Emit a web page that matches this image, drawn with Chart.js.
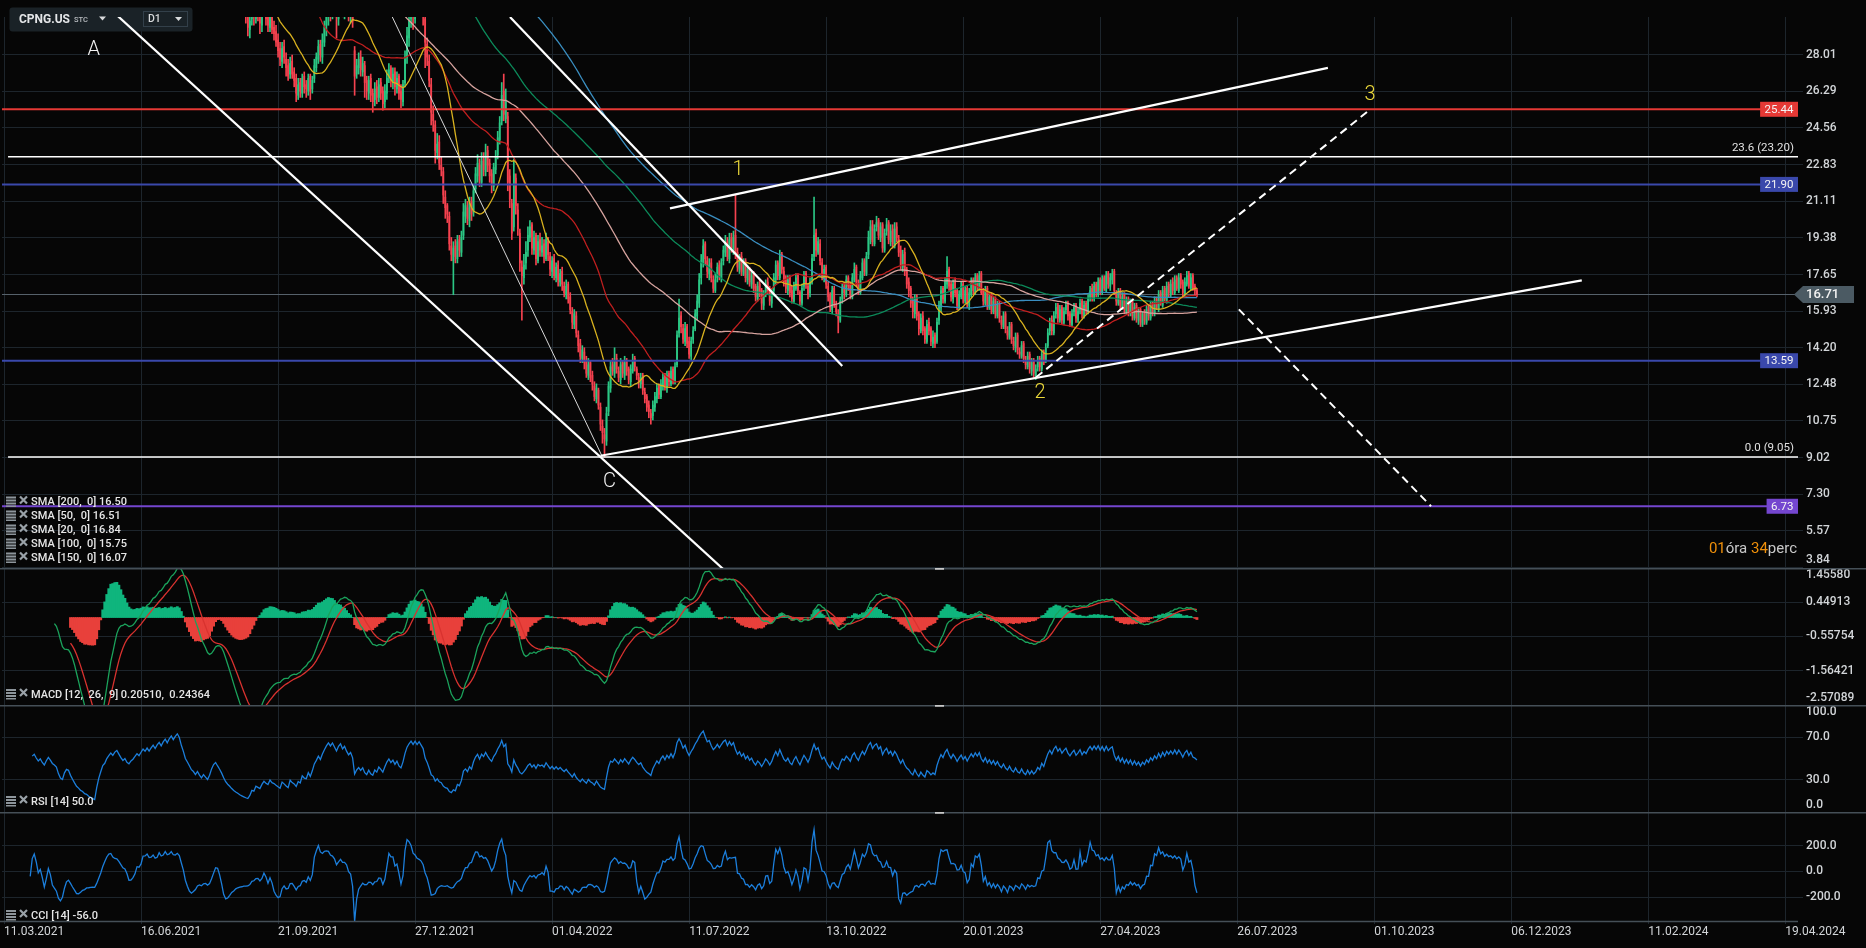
<!DOCTYPE html>
<html><head><meta charset="utf-8">
<script src="https://cdn.jsdelivr.net/npm/chart.js@4.4.1/dist/chart.umd.min.js"></script>
<style>
html,body{margin:0;padding:0;background:#060606;}
#wrap{position:relative;width:1866px;height:948px;background:#060606;overflow:hidden;}
canvas{position:absolute;left:0;}
</style></head><body>
<div id="wrap">
<canvas id="cMain" width="1866" height="568" style="top:0;width:1866px;height:568px"></canvas>
<canvas id="cMacd" width="1866" height="137" style="top:568px;width:1866px;height:137px"></canvas>
<canvas id="cRsi" width="1866" height="107" style="top:705px;width:1866px;height:107px"></canvas>
<canvas id="cCci" width="1866" height="136" style="top:812px;width:1866px;height:136px"></canvas>
</div>
<script>
// ---------------- DATA ----------------
const dateLabels = ['11.03.2021','16.06.2021','21.09.2021','27.12.2021','01.04.2022','11.07.2022','13.10.2022','20.01.2023','27.04.2023','26.07.2023','01.10.2023','06.12.2023','11.02.2024','19.04.2024'];
const labelStep = 68; // bars between date labels

const opens = [
63.5,49.8,48.7,50.3,49.2,48.3,48.9,49.6,48.5,48.1,
48.8,49.7,49.1,48.5,49.2,49.9,50.1,49.4,48.8,49.4,
48.5,48.2,48.9,49.3,48.8,48.4,48.1,47.5,46.3,45.1,
44.7,45.4,46.1,45.7,44.5,43.4,42.2,41.1,40.3,39.2,
38.4,37.4,36.8,35.7,34.9,33.8,33.2,34.6,36.1,37.3,
38.6,39.1,40.2,40.9,41.6,41.1,41.9,42.3,41.4,40.9,
40.1,40.5,39.9,39.6,40.1,40.2,40.9,41.4,40.9,41.7,
42.3,41.8,42.6,42.0,42.8,43.3,42.7,43.6,44.1,43.5,
44.5,45.1,44.7,45.4,46.3,45.9,46.5,47.4,46.8,45.9,
45.1,44.2,43.4,42.9,41.9,41.5,40.8,41.4,40.4,39.7,
40.3,39.7,38.9,39.6,40.2,40.8,41.3,40.5,39.9,39.1,
38.2,37.1,36.1,35.6,34.5,33.9,33.0,32.5,31.5,31.1,
30.3,29.9,29.2,29.7,30.2,29.7,30.4,29.8,29.4,30.0,
30.1,29.8,29.3,29.9,29.3,29.1,28.7,28.3,27.7,28.4,
27.8,27.5,27.1,27.7,27.2,26.9,26.1,26.7,26.2,27.0,
26.6,26.3,27.0,26.4,26.9,27.4,27.8,28.5,27.9,28.6,
29.4,29.8,30.5,30.0,30.7,30.3,29.7,30.4,31.0,30.3,
30.7,30.2,29.8,30.1,28.2,27.1,27.4,27.9,27.2,27.5,
26.8,26.2,26.9,26.2,25.9,26.5,26.0,26.7,26.3,25.8,
26.2,27.0,27.4,26.7,27.2,26.4,27.0,26.3,25.8,26.7,
27.9,28.8,29.7,30.3,29.7,30.6,30.0,30.8,30.2,29.7,
28.5,27.7,26.6,25.2,24.7,23.4,23.9,22.8,22.5,21.3,
20.9,20.4,19.0,18.3,19.0,18.4,19.3,18.7,19.5,20.4,
20.8,20.2,21.1,20.6,21.7,22.3,22.8,22.0,23.1,22.5,
23.5,22.9,22.4,21.8,22.6,23.3,24.0,24.9,26.3,25.0,
25.1,22.3,21.0,19.9,22.2,20.7,19.6,18.0,17.5,18.2,
18.8,19.4,20.0,18.8,19.5,18.3,19.3,18.7,19.1,18.4,
19.2,18.5,17.8,18.4,17.5,18.1,17.3,17.8,17.1,16.7,
17.2,16.6,15.9,15.3,15.7,14.8,14.4,13.7,14.0,13.6,
12.9,13.5,12.9,12.4,11.8,12.2,11.4,10.5,10.1,9.8,
11.2,12.3,13.4,13.0,13.7,13.1,12.7,13.5,12.9,13.6,
13.2,12.6,13.1,13.7,13.2,12.8,12.5,12.9,12.1,11.9,
11.5,11.1,11.0,11.4,11.8,12.4,11.9,12.4,12.9,12.3,
13.0,12.5,13.2,12.6,13.4,14.9,15.7,15.1,14.5,15.2,
14.5,13.8,14.6,15.1,15.7,16.3,17.5,18.2,19.1,18.3,
17.7,18.2,17.4,16.9,17.5,18.1,17.5,18.3,18.7,19.2,
18.4,19.4,18.8,19.5,18.7,17.9,18.5,17.7,18.3,17.4,
17.9,17.2,17.7,17.1,16.5,17.2,16.9,16.2,16.8,17.3,
17.0,16.3,16.9,17.4,18.2,17.5,18.6,17.8,17.4,16.9,
17.5,16.9,16.4,17.0,17.6,16.8,16.3,17.1,17.7,17.1,
16.8,17.4,18.5,19.6,18.7,19.1,18.2,17.5,18.0,17.1,
16.7,16.0,17.0,16.2,15.8,15.5,16.5,17.1,16.7,17.5,
17.2,16.6,17.4,18.0,17.2,16.8,17.5,18.3,17.7,18.6,
19.3,20.0,19.1,19.9,20.2,19.4,20.0,18.8,19.7,20.1,
19.2,19.8,19.0,19.9,19.3,18.8,18.0,18.7,17.9,17.3,
17.0,16.4,15.8,16.6,15.8,15.0,15.7,15.1,14.5,15.4,
15.1,14.4,14.8,14.5,15.5,16.1,17.0,16.4,17.2,17.9,
17.2,16.5,17.3,16.9,16.1,16.6,17.2,16.4,17.0,16.2,
16.7,17.4,16.8,17.6,17.0,17.7,16.9,16.3,17.0,16.1,
16.7,15.9,16.5,15.7,16.3,15.5,15.2,15.8,15.0,14.7,
15.3,14.5,14.2,14.8,14.0,13.8,14.4,13.6,13.3,13.9,
13.1,13.6,12.9,13.3,13.7,13.2,14.0,13.6,14.3,15.0,
15.5,14.9,15.8,16.2,15.5,16.1,15.4,16.0,16.3,15.8,
15.3,15.9,16.2,15.5,16.0,16.4,15.7,16.3,15.9,16.6,
17.0,16.5,17.2,16.7,17.4,16.8,17.5,16.9,17.7,17.1,
17.4,17.8,16.8,16.3,16.9,16.1,16.7,15.9,16.5,15.8,
16.4,15.6,16.2,15.5,16.0,15.3,15.9,15.4,16.1,15.6,
16.3,15.8,16.5,16.0,16.8,16.2,17.0,16.4,17.2,16.7,
17.3,16.8,17.5,16.9,17.6,17.3,16.7,17.2,17.7,17.0,17.6,17.1,16.9
];
const highs = [
69.0,50.9,50.8,51.2,49.9,49.4,50.2,50.0,49.1,49.3,
50.3,50.2,49.5,49.6,50.4,50.9,50.6,49.8,49.9,49.7,
48.9,49.2,49.8,49.6,49.0,48.7,48.4,47.7,46.6,45.6,
45.9,46.5,46.4,45.9,44.8,43.7,42.5,41.4,40.6,39.6,
38.7,37.9,37.1,36.0,35.2,34.1,34.9,36.4,37.6,38.9,
39.5,40.5,41.2,41.9,41.9,42.1,42.6,42.6,41.7,41.1,
40.9,40.8,40.2,40.3,40.6,41.1,41.6,41.6,41.9,42.5,
42.6,42.8,42.8,43.0,43.5,43.6,43.8,44.3,44.4,44.7,
45.3,45.4,45.8,46.6,46.6,46.9,47.7,47.8,47.1,46.2,
45.3,44.5,43.7,43.1,42.2,41.8,41.6,41.7,40.7,40.5,
40.5,39.9,39.8,40.6,41.2,41.6,41.5,40.7,40.1,39.3,
38.4,37.4,36.5,35.8,34.8,34.2,33.3,32.7,31.8,31.4,
30.6,30.2,29.9,30.5,30.4,30.7,30.6,30.0,30.3,30.6,
30.4,30.0,30.1,30.2,29.6,29.4,29.0,28.6,28.6,28.7,
28.1,27.8,27.9,28.0,27.4,27.1,26.9,26.9,27.1,27.2,
26.8,27.1,27.1,27.0,27.8,28.1,28.7,28.7,29.0,29.6,
30.3,30.8,30.9,31.0,31.1,30.5,30.9,31.3,31.2,31.1,
31.0,30.6,30.5,30.4,28.4,27.8,28.1,28.2,27.9,27.7,
27.0,27.0,27.1,26.4,26.7,26.8,26.9,26.9,26.5,26.6,
27.3,27.6,27.5,27.4,27.4,27.2,27.1,26.6,26.8,28.2,
29.3,30.0,30.6,30.6,30.9,30.9,31.0,31.1,30.5,29.9,
28.8,28.0,26.9,25.6,24.9,24.3,24.2,23.2,22.7,21.6,
21.0,20.6,19.4,19.2,19.3,19.5,19.5,19.7,21.0,21.2,
21.1,21.3,21.3,21.9,22.7,23.3,23.1,23.4,23.4,23.8,
23.7,23.1,22.6,22.9,23.5,24.4,25.1,26.7,27.1,26.4,
25.3,22.6,21.2,23.1,22.4,21.0,19.8,18.3,18.6,19.2,
19.9,20.2,20.1,19.7,19.6,19.5,19.6,19.4,19.3,19.6,
19.4,18.7,18.5,18.6,18.2,18.3,17.9,18.0,17.3,17.4,
17.3,16.8,16.1,16.0,15.9,15.0,14.6,14.3,14.2,13.8,
13.7,13.6,13.1,12.6,12.5,12.3,11.6,10.8,10.4,11.4,
12.6,13.6,13.7,14.2,13.9,13.3,13.7,13.6,13.8,13.7,
13.3,13.4,13.9,13.8,13.3,13.0,13.0,13.0,12.3,12.0,
11.7,11.3,11.7,12.1,12.5,12.5,12.7,13.0,13.0,13.1,
13.1,13.3,13.3,13.5,15.0,16.5,15.9,15.3,15.4,15.3,
14.7,14.7,15.2,16.0,16.7,17.7,18.6,19.3,19.2,18.5,
18.4,18.4,17.6,17.7,18.2,18.3,18.4,19.0,19.5,19.4,
19.6,19.6,19.7,21.4,18.9,18.6,18.7,18.4,18.4,18.1,
18.0,17.8,17.8,17.2,17.3,17.4,17.0,16.9,17.4,17.5,
17.1,17.0,17.7,18.3,18.3,18.8,18.7,18.0,17.6,17.6,
17.6,17.1,17.3,17.7,17.7,16.9,17.2,17.8,17.8,17.2,
17.5,18.6,21.3,19.8,19.4,19.3,18.4,18.1,18.1,17.3,
16.8,17.1,17.1,16.4,16.0,16.6,17.2,17.3,17.6,17.6,
17.3,17.7,18.2,18.1,17.4,17.8,18.4,18.4,18.7,19.7,
20.2,20.2,20.0,20.4,20.3,20.1,20.1,19.8,20.3,20.2,
20.0,20.0,20.1,20.1,19.5,19.0,18.8,18.9,18.0,17.5,
17.1,16.6,16.7,16.7,15.9,15.8,15.9,15.2,15.5,15.6,
15.2,15.0,14.9,15.6,16.4,17.1,17.1,17.5,18.5,18.0,
17.3,17.4,17.5,17.0,16.9,17.3,17.3,17.1,17.1,17.0,
17.5,17.5,17.7,17.7,17.8,17.8,17.0,17.1,17.1,16.8,
16.8,16.6,16.6,16.4,16.4,15.7,15.9,15.9,15.2,15.4,
15.4,14.7,14.9,14.9,14.2,14.5,14.5,13.8,14.0,14.0,
13.7,13.7,13.4,13.8,13.8,14.1,14.1,14.4,15.1,15.6,
15.7,15.9,16.3,16.3,16.2,16.2,16.1,16.4,16.4,15.9,
16.0,16.3,16.3,16.1,16.5,16.5,16.4,16.4,16.7,17.1,
17.2,17.3,17.3,17.5,17.5,17.6,17.6,17.8,17.8,17.7,
17.9,17.9,16.9,17.0,17.0,16.8,16.8,16.6,16.6,16.5,
16.5,16.3,16.3,16.1,16.1,15.9,16.0,16.2,16.2,16.4,
16.4,16.6,16.6,16.9,16.9,17.1,17.1,17.3,17.3,17.4,
17.5,17.6,17.6,17.7,17.7,17.4,17.5,17.8,17.8,17.7,17.7,17.2,17.0
];
const lows = [
48.9,47.7,48.1,48.7,47.6,47.8,48.4,48.1,47.3,47.6,
48.4,48.8,47.9,48.1,48.9,49.4,49.0,48.3,48.5,48.2,
47.6,47.9,48.6,48.5,47.9,47.6,47.2,45.9,44.6,44.0,
44.3,45.0,45.3,44.3,43.2,42.0,40.7,39.8,38.8,38.1,
37.0,36.4,35.3,34.4,33.3,32.4,32.8,34.2,35.8,37.0,
38.3,38.8,39.9,40.6,40.7,40.8,41.6,41.2,40.5,39.9,
39.8,39.5,39.1,39.3,39.8,39.9,40.6,40.7,40.6,41.4,
41.6,41.6,41.8,41.8,42.5,42.5,42.4,43.3,43.2,43.2,
44.2,44.3,44.4,45.1,45.5,45.6,46.2,46.6,45.7,44.9,
43.8,43.1,42.5,41.7,41.2,40.6,40.5,40.2,39.4,39.4,
39.3,38.6,38.6,39.3,40.0,40.5,40.4,39.8,38.9,37.8,
36.7,35.9,35.1,34.3,33.5,32.7,32.1,31.3,30.6,30.1,
29.5,28.9,28.8,29.4,29.4,29.5,29.6,29.0,29.1,29.8,
29.4,29.1,29.1,29.0,28.7,28.4,27.9,27.5,27.4,27.6,
27.0,26.8,26.9,26.9,26.5,25.8,25.9,26.0,26.0,26.2,
26.0,26.1,25.9,26.2,26.7,27.2,27.6,27.7,27.6,28.4,
28.9,29.4,29.6,29.7,29.8,28.8,29.4,30.0,29.8,29.7,
29.9,29.6,29.5,29.3,26.1,26.9,27.1,27.0,27.0,26.0,
25.9,25.9,25.8,25.3,25.6,25.7,25.8,25.9,25.4,25.5,
25.9,26.7,26.5,26.4,26.1,26.2,25.9,25.5,25.6,26.5,
27.6,28.4,29.3,29.2,29.5,29.8,29.8,30.0,29.4,27.4,
27.5,26.5,24.7,24.4,22.9,23.1,22.6,22.3,21.0,20.3,
20.1,18.8,18.3,16.7,18.2,18.2,18.5,18.5,19.3,20.1,
20.0,19.9,20.2,20.4,21.5,22.0,21.8,21.8,22.3,22.3,
22.5,22.0,21.5,21.6,22.4,23.1,23.8,24.7,24.9,24.8,
21.6,20.8,19.3,19.7,20.5,19.5,17.8,15.5,17.2,17.9,
18.5,19.2,18.6,18.6,18.1,18.2,18.5,18.5,18.2,18.3,
18.3,17.6,17.5,17.4,17.3,17.1,17.1,16.9,16.6,16.5,
16.3,15.8,15.1,15.1,14.7,14.0,13.5,13.5,13.2,12.8,
12.7,12.6,12.2,11.7,11.6,11.3,10.3,9.7,9.05,9.6,
11.0,12.1,12.9,12.8,13.0,12.6,12.5,12.8,12.7,12.9,
12.5,12.4,13.0,13.1,12.7,12.3,12.3,12.0,11.6,11.2,
10.9,10.6,10.8,11.2,11.6,11.8,11.8,12.2,12.2,12.1,
12.4,12.4,12.5,12.5,13.3,14.7,14.9,14.4,14.3,14.2,
13.7,13.6,14.4,15.0,15.5,16.1,17.2,18.0,18.1,17.5,
17.4,17.3,16.8,16.8,17.3,17.4,17.3,18.1,18.5,18.3,
18.2,18.7,18.6,18.4,17.8,17.7,17.6,17.6,17.3,17.2,
17.1,17.0,16.8,16.4,16.4,16.6,16.0,16.0,16.6,16.7,
16.2,16.1,16.7,17.2,17.4,17.4,17.7,17.1,16.8,16.7,
16.6,16.3,16.3,16.9,16.7,16.2,16.2,16.9,17.0,16.5,
16.6,17.2,18.3,18.5,18.6,18.1,17.4,17.3,17.0,16.4,
15.9,15.8,16.1,15.7,14.9,15.4,16.3,16.5,16.6,16.9,
16.5,16.5,17.3,17.1,16.7,16.7,17.4,17.6,17.6,18.4,
19.1,19.0,19.0,19.7,19.3,19.2,18.7,18.7,19.5,19.1,
19.0,18.9,18.9,19.2,18.5,17.9,17.8,17.6,17.0,16.6,
16.1,15.6,15.6,15.5,14.8,14.9,14.8,14.4,14.4,14.8,
14.3,14.2,14.2,14.4,15.3,15.9,16.3,16.3,17.0,16.9,
16.4,16.3,16.6,16.0,16.0,16.5,16.3,16.3,16.1,16.0,
16.6,16.7,16.7,16.9,16.9,16.7,16.2,16.2,16.0,16.0,
15.8,15.8,15.6,15.6,15.4,15.1,15.1,14.9,14.6,14.6,
14.4,14.1,14.0,13.9,13.7,13.7,13.5,13.2,13.2,13.0,
12.9,12.8,12.7,13.1,13.1,13.1,13.4,13.5,14.2,14.8,
14.8,14.8,15.6,15.4,15.4,15.3,15.3,15.8,15.5,15.2,
15.2,15.7,15.4,15.4,15.8,15.6,15.6,15.8,15.8,16.4,
16.4,16.4,16.6,16.6,16.7,16.7,16.9,16.8,17.0,16.9,
17.2,16.7,16.2,16.2,16.0,16.0,15.8,15.8,15.7,15.7,
15.5,15.5,15.4,15.3,15.2,15.2,15.3,15.3,15.5,15.5,
15.7,15.7,16.0,15.9,16.2,16.1,16.4,16.3,16.6,16.6,
16.7,16.7,16.9,16.8,17.0,16.6,16.6,17.1,17.0,16.9,16.9,16.7,16.6
];
const closes = [
49.3,48.5,50.1,49.4,48.2,48.8,49.5,48.6,48.0,48.7,
49.6,49.2,48.4,49.1,49.8,50.2,49.5,48.9,49.3,48.6,
48.1,48.8,49.4,48.9,48.3,48.0,47.6,46.2,45.0,44.6,
45.5,46.0,45.8,44.6,43.5,42.3,41.0,40.2,39.1,38.5,
37.3,36.9,35.6,34.8,33.7,32.9,34.5,36.0,37.2,38.5,
39.0,40.1,40.8,41.5,41.0,41.8,42.2,41.5,40.8,40.2,
40.6,39.8,39.5,40.0,40.3,40.8,41.3,41.0,41.6,42.2,
41.9,42.5,42.1,42.7,43.2,42.8,43.5,44.0,43.6,44.4,
45.0,44.6,45.5,46.2,45.8,46.6,47.3,46.9,46.0,45.2,
44.1,43.5,42.8,42.0,41.6,40.9,41.3,40.5,39.8,40.2,
39.6,39.0,39.5,40.3,40.9,41.2,40.6,40.0,39.2,38.1,
37.0,36.2,35.5,34.6,33.8,33.1,32.4,31.6,31.0,30.4,
29.8,29.3,29.6,30.1,29.8,30.3,29.9,29.5,29.9,30.2,
29.7,29.4,29.8,29.2,29.0,28.6,28.2,27.8,28.3,27.9,
27.4,27.0,27.6,27.1,26.8,26.2,26.6,26.3,26.9,26.5,
26.4,26.9,26.3,26.8,27.5,27.9,28.4,28.0,28.7,29.3,
29.9,30.4,30.1,30.6,30.2,29.8,30.5,30.9,30.4,30.8,
30.3,29.9,30.2,29.6,27.0,27.5,27.8,27.3,27.6,26.7,
26.3,26.8,26.1,25.8,26.4,26.0,26.6,26.2,25.7,26.3,
26.9,27.3,26.8,27.1,26.5,26.9,26.2,25.9,26.6,27.8,
28.9,29.6,30.2,29.8,30.5,30.1,30.7,30.3,29.9,28.6,
27.9,26.8,25.3,24.9,23.5,23.8,22.9,22.6,21.4,20.8,
20.5,19.1,18.6,18.9,18.5,19.2,18.8,19.4,20.6,20.9,
20.3,21.0,20.5,21.6,22.4,22.9,22.1,23.0,22.6,23.4,
22.8,22.3,21.9,22.7,23.2,24.1,24.8,26.1,25.2,25.8,
22.0,21.2,19.6,22.4,20.9,19.8,18.2,17.6,18.1,18.7,
19.5,19.9,18.9,19.4,18.4,19.2,18.8,19.0,18.5,19.3,
18.6,17.9,18.3,17.6,18.0,17.4,17.7,17.2,16.8,17.1,
16.5,16.0,15.4,15.8,14.9,14.3,13.8,14.1,13.5,13.0,
13.4,12.8,12.5,11.9,12.3,11.5,10.6,10.2,9.9,11.1,
12.4,13.3,13.1,13.6,13.2,12.8,13.4,13.0,13.5,13.1,
12.7,13.2,13.6,13.3,12.9,12.6,12.8,12.2,11.8,11.4,
11.2,10.9,11.5,11.9,12.3,12.0,12.5,12.8,12.4,12.9,
12.6,13.1,12.7,13.3,14.8,15.6,15.2,14.6,15.1,14.4,
13.9,14.5,15.0,15.8,16.4,17.4,18.3,19.0,18.4,17.8,
18.1,17.5,17.0,17.4,18.0,17.6,18.2,18.8,19.1,18.5,
19.3,18.9,19.4,18.6,18.0,18.4,17.8,18.2,17.5,17.9,
17.3,17.6,17.0,16.6,17.1,16.8,16.3,16.7,17.2,16.9,
16.4,16.8,17.5,18.1,17.6,18.5,17.9,17.3,17.0,17.4,
16.8,16.5,17.1,17.5,16.9,16.4,17.0,17.6,17.2,16.7,
17.3,18.4,19.5,18.8,19.2,18.3,17.6,17.9,17.2,16.6,
16.1,16.9,16.3,15.9,15.6,16.4,17.0,16.8,17.4,17.1,
16.7,17.5,17.9,17.3,16.9,17.6,18.2,17.8,18.5,19.4,
19.9,19.2,19.8,20.1,19.5,19.9,18.9,19.6,20.0,19.3,
19.7,19.1,19.8,19.4,18.7,18.1,18.6,17.8,17.2,16.9,
16.3,15.9,16.5,15.7,15.1,15.6,15.0,14.6,15.3,15.0,
14.5,14.7,14.4,15.4,16.2,16.9,16.5,17.3,17.8,17.1,
16.6,17.2,16.8,16.2,16.7,17.1,16.5,16.9,16.3,16.8,
17.3,16.9,17.5,17.1,17.6,16.8,16.4,16.9,16.2,16.6,
16.0,16.4,15.8,16.2,15.6,15.3,15.7,15.1,14.8,15.2,
14.6,14.3,14.7,14.1,13.9,14.3,13.7,13.4,13.8,13.2,
13.5,13.0,13.2,13.6,13.3,13.9,13.5,14.2,14.9,15.4,
15.0,15.7,16.1,15.6,16.0,15.5,15.9,16.2,15.7,15.4,
15.8,16.1,15.6,15.9,16.3,15.8,16.2,16.0,16.5,16.9,
16.6,17.1,16.8,17.3,16.9,17.4,17.0,17.6,17.2,17.5,
17.7,16.9,16.4,16.8,16.2,16.6,16.0,16.4,15.9,16.3,
15.7,16.1,15.6,15.9,15.4,15.8,15.5,16.0,15.7,16.2,
15.9,16.4,16.1,16.7,16.3,16.9,16.5,17.1,16.8,17.2,
16.9,17.4,17.0,17.5,17.2,16.8,17.3,17.6,17.1,17.5,17.0,16.9,16.71
];

// price axis ticks (right side)
const priceTicks = [3.84,5.57,7.30,9.02,10.75,12.48,14.20,15.93,17.65,19.38,21.11,22.83,24.56,26.29,28.01];
const macdTicks = [-2.57089,-1.56421,-0.55754,0.44913,1.45580];
const rsiTicks = [0,30,70,100];
const cciTicks = [-200,0,200];

// horizontal levels
const levelValues = [25.44, 23.20, 21.90, 13.59, 9.05, 6.73];
const levelBoxed  = [true, false, true, true, false, true];
const fibTexts = [['23.6 (23.20)', 23.20], ['0.0 (9.05)', 9.05]];
const lastPrice = 16.71;

// drawn trend lines [bar, price]
const trendLines = [
  [[56.3, 29.85], [360, 3.5]],
  [[251.1, 29.79], [416.0, 13.34]],
  [[330.5, 20.77], [657, 27.39]],
  [[296, 9.11], [783, 17.38]]
];
const thinLines = [ [[192.7, 29.79], [297, 9.05]] ];
const dashedLines = [
  [[512.2, 12.81], [677.2, 25.37]],
  [[612.8, 16.01], [708.2, 6.73]]
];
const waveMarks = [['A', 44.5, 28.25, 'w'], ['C', 300.5, 7.87, 'w'], ['1', 364.3, 22.58, 'y'], ['2', 514.1, 12.07, 'y'], ['3', 677.9, 26.11, 'y']];

const smaPeriods = [20, 50, 100, 150, 200];
const smaLegend = ['SMA [200,  0] 16.50','SMA [50,  0] 16.51','SMA [20,  0] 16.84','SMA [100,  0] 15.75','SMA [150,  0] 16.07'];

// ---------------- STYLE ----------------
const BG = '#060606';
const GRID = '#1d252c';
const SEP = '#454f57';
const TXT = '#d2d5d8';
const UP = '#2bc784', DN = '#f5424f';
const smaColors = {20:'#d9b21f', 50:'#c01f1f', 100:'#d6a39e', 150:'#0c8a5a', 200:'#3a8ec0'};
const levelColors = ['#e53935','#ffffff','#3a48ab','#3a48ab','#ffffff','#7446cf'];
const levelWidths = [2,1.5,2,2,1.5,2];
const X_MIN = -1, X_MAX = 890.3, AXIS_W = 68;
Chart.defaults.font.family = 'Roboto';

const N = closes.length;

// ---------------- INDICATORS ----------------
function sma(arr, n){ const out=[]; let s=0; for(let i=0;i<arr.length;i++){ s+=arr[i]; if(i>=n) s-=arr[i-n]; if(i>=n-1) out.push({x:i,y:s/n}); } return out; }
function ema(arr, n, start){ const k=2/(n+1); const out=new Array(arr.length).fill(null); let e=arr[start]; out[start]=e; for(let i=start+1;i<arr.length;i++){ e=arr[i]*k+e*(1-k); out[i]=e; } return out; }
const e12 = ema(closes,12,0), e26 = ema(closes,26,0);
const macdRaw = closes.map((_,i)=>e12[i]-e26[i]);
const sig = ema(macdRaw, 9, 25);
const macdLine=[], sigLine=[], hist=[], histColors=[];
for(let i=25;i<N;i++) macdLine.push({x:i,y:macdRaw[i]});
for(let i=33;i<N;i++){ const h=macdRaw[i]-sig[i]; sigLine.push({x:i,y:sig[i]}); hist.push({x:i,y:h}); histColors.push(h>=0?'#0fb57d':'#e8403b'); }
function rsi(c,n){ const out=[]; let g=0,l=0; for(let i=1;i<=n;i++){ const d=c[i]-c[i-1]; if(d>0) g+=d; else l-=d; } g/=n; l/=n; out.push({x:n,y:l===0?100:100-100/(1+g/l)}); for(let i=n+1;i<c.length;i++){ const d=c[i]-c[i-1]; g=(g*(n-1)+(d>0?d:0))/n; l=(l*(n-1)+(d<0?-d:0))/n; out.push({x:i,y:l===0?100:100-100/(1+g/l)}); } return out; }
function cci(h,lo,c,n){ const tp=c.map((v,i)=>(h[i]+lo[i]+v)/3); const out=[]; for(let i=n-1;i<c.length;i++){ let s=0; for(let j=i-n+1;j<=i;j++) s+=tp[j]; const m=s/n; let md=0; for(let j=i-n+1;j<=i;j++) md+=Math.abs(tp[j]-m); md/=n; out.push({x:i,y:md===0?0:(tp[i]-m)/(0.015*md)}); } return out; }

// ---------------- HELPERS ----------------
function noPad(s){ s.paddingTop=0; s.paddingBottom=0; s.paddingLeft=0; s.paddingRight=0; }
function xScale(showLabels){
  return {
    type:'linear', min:X_MIN, max:X_MAX, offset:false,
    afterBuildTicks: s => { s.ticks = dateLabels.map((d,k)=>({value:k*labelStep})); },
    afterFit: s => { s.height = showLabels ? 27 : 0; noPad(s); },
    ticks:{ display:showLabels, autoSkip:false, maxRotation:0, minRotation:0, align:'start', color:TXT, font:{size:12}, padding:1, callback:(v,i)=>dateLabels[i] },
    grid:{ color:GRID, drawTicks:showLabels, tickLength:3, offset:false },
    border:{ display:false }
  };
}
function yScale(min,max,vals,labels){
  return {
    type:'linear', position:'right', min, max,
    afterBuildTicks: s => { s.ticks = vals.map(v=>({value:v})); },
    afterFit: s => { s.width = AXIS_W; noPad(s); },
    ticks:{ autoSkip:false, color:TXT, font:{size:12, weight:'500'}, padding:3, callback:(v,i)=>labels[i] },
    grid:{ color:GRID, tickLength:5, drawTicks:true },
    border:{ display:false }
  };
}
function seg(pts){ return pts.map(p=>({x:p[0],y:p[1]})); }
function txt(ctx,s,x,y,o){ o=o||{}; ctx.save(); ctx.font=(o.weight||'400')+' '+(o.size||12)+'px '+(o.family||'Roboto'); ctx.fillStyle=o.color||TXT; ctx.textAlign=o.align||'left'; ctx.textBaseline=o.baseline||'middle'; ctx.fillText(s,x,y); const w=ctx.measureText(s).width; ctx.restore(); return w; }
function legendIcons(ctx,y){
  ctx.save();
  ctx.fillStyle='#8d959b';
  ctx.fillRect(6,y-5,10,2); ctx.fillRect(6,y-2,10,2); ctx.fillRect(6,y+1,10,2); ctx.fillRect(6,y+4,10,1.5);
  ctx.strokeStyle='#9aa2a8'; ctx.lineWidth=2.2;
  ctx.beginPath(); ctx.moveTo(20,y-5); ctx.lineTo(27,y+2); ctx.moveTo(27,y-5); ctx.lineTo(20,y+2); ctx.stroke();
  ctx.restore();
}
function legendLine(ctx,s,y){ legendIcons(ctx,y); txt(ctx,s,31,y+1,{size:11,color:'#e6e6e6',weight:'500'}); }
function separator(ctx,y,right){ ctx.save(); ctx.strokeStyle=SEP; ctx.lineWidth=1.5; ctx.beginPath(); ctx.moveTo(0,y); ctx.lineTo(right,y); ctx.stroke(); ctx.fillStyle='#c8c8c8'; ctx.fillRect(935,y-1,9,2); ctx.restore(); }
const baseOpts = { responsive:false, animation:false, devicePixelRatio:1, plugins:{legend:{display:false},tooltip:{enabled:false}} };

// ---------------- MAIN CHART ----------------
const wicks=[], bodies=[], cColors=[];
for(let i=0;i<N;i++){
  wicks.push({x:i,y:[lows[i],highs[i]]});
  const lo=Math.min(opens[i],closes[i]), hi=Math.max(opens[i],closes[i]);
  bodies.push({x:i,y:[lo, hi-lo<0.05?lo+0.05:hi]});
  cColors.push(closes[i]>=opens[i]?UP:DN);
}
const mainDatasets = [];
trendLines.forEach(t=>mainDatasets.push({type:'line',data:seg(t),borderColor:'#ffffff',borderWidth:2.2,pointRadius:0,order:0}));
thinLines.forEach(t=>mainDatasets.push({type:'line',data:seg(t),borderColor:'#d9d9d9',borderWidth:1,pointRadius:0,order:0}));
dashedLines.forEach(t=>mainDatasets.push({type:'line',data:seg(t),borderColor:'#ffffff',borderWidth:2,borderDash:[8,5],pointRadius:0,order:0}));
levelValues.forEach((v,k)=>mainDatasets.push({type:'line',data:[{x:(levelColors[k]==='#ffffff'?2:X_MIN),y:v},{x:X_MAX,y:v}],borderColor:levelColors[k],borderWidth:levelWidths[k],pointRadius:0,order:1}));
smaPeriods.forEach(p=>mainDatasets.push({type:'line',data:sma(closes,p),borderColor:smaColors[p],borderWidth:1.3,pointRadius:0,order:2}));
mainDatasets.push({type:'bar',data:bodies,backgroundColor:cColors,barThickness:1.1,grouped:false,order:3});
mainDatasets.push({type:'bar',data:wicks,backgroundColor:cColors,barThickness:1,grouped:false,order:3});
mainDatasets.push({type:'line',data:[{x:X_MIN,y:lastPrice},{x:X_MAX,y:lastPrice}],borderColor:'#56616a',borderWidth:1,pointRadius:0,order:4});

const mainOverlay = {
  id:'mainOverlay',
  beforeDraw(chart){ const c=chart.ctx; c.save(); c.fillStyle=BG; c.fillRect(0,0,chart.width,chart.height); c.restore(); },
  beforeDatasetsDraw(chart){
    const c=chart.ctx; c.save();
    c.fillStyle='#1a2227'; c.beginPath(); c.roundRect(9.5,7.5,183,24,3); c.fill();
    c.restore();
    txt(c,'CPNG.US',19,19.5,{size:12,weight:'700',color:'#e4e6e8'});
    txt(c,'STC',74,20.5,{size:7.5,color:'#b8bcc0',weight:'500'});
    c.save(); c.fillStyle='#d8dadc';
    c.beginPath(); c.moveTo(99,16.5); c.lineTo(106,16.5); c.lineTo(102.5,20.5); c.closePath(); c.fill();
    c.strokeStyle='#33404a'; c.lineWidth=1; c.strokeRect(143.5,11.5,44,15);
    c.beginPath(); c.moveTo(175,17); c.lineTo(182,17); c.lineTo(178.5,21); c.closePath(); c.fill();
    c.restore();
    txt(c,'D1',148,19.5,{size:10.5,color:'#d8dadc',weight:'500'});
  },
  afterDraw(chart){
    const c=chart.ctx, xs=chart.scales.x, ys=chart.scales.y, R=chart.chartArea.right;
    waveMarks.forEach(m=>txt(c,m[0],xs.getPixelForValue(m[1]),ys.getPixelForValue(m[2]),{size:20,align:'center',color:m[3]==='y'?'#ecd93a':'#f2f2f2',weight:'300'}));
    fibTexts.forEach(f=>txt(c,f[0],R-4,ys.getPixelForValue(f[1])-9,{size:11.5,align:'right',color:'#e0e0e0'}));
    levelValues.forEach((v,k)=>{
      if(!levelBoxed[k]) return;
      const y=ys.getPixelForValue(v); c.save(); c.font='400 11.5px Roboto'; const w=c.measureText(v.toFixed(2)).width+9;
      c.fillStyle=levelColors[k]; c.fillRect(R-w,y-7.5,w,15); c.restore();
      txt(c,v.toFixed(2),R-w/2,y+0.5,{size:11.5,align:'center',color:'#f4f4f4'});
    });
    const py=ys.getPixelForValue(lastPrice);
    c.save(); c.fillStyle='#4b5a63'; c.beginPath(); c.moveTo(R-4,py); c.lineTo(R+5,py-8.5); c.lineTo(R+56,py-8.5); c.lineTo(R+56,py+8.5); c.lineTo(R+5,py+8.5); c.closePath(); c.fill(); c.restore();
    txt(c,lastPrice.toFixed(2),R+8,py+0.5,{size:13,weight:'500',color:'#f2f2f2'});
    smaLegend.forEach((s,k)=>legendLine(c,s,501.5+k*14));
    let x=R-1; const parts=[['perc','#c8c8c8'],['34','#f0900a'],['óra ','#c8c8c8'],['01','#f0900a']];
    parts.forEach(p=>{ const w=txt(c,p[0],x,549,{size:15,align:'right',color:p[1]}); x-=w; });
  }
};
new Chart(document.getElementById('cMain'),{
  type:'bar',
  data:{datasets:mainDatasets},
  options:Object.assign({}, baseOpts, {
    layout:{autoPadding:false, padding:{top:17,left:2,right:0,bottom:0}},
    scales:{ x:xScale(false), y:yScale(3.82,29.79,priceTicks,priceTicks.map((v,i)=>i===0?[v.toFixed(2),'']:v.toFixed(2))) }
  }),
  plugins:[mainOverlay]
});

// ---------------- MACD ----------------
const bgPlugin = {id:'bg',beforeDraw(chart){ const c=chart.ctx; c.save(); c.fillStyle=BG; c.fillRect(0,0,chart.width,chart.height); c.restore(); }};
new Chart(document.getElementById('cMacd'),{
  type:'bar',
  data:{datasets:[
    {type:'line',data:macdLine,borderColor:'#1ba35c',borderWidth:1.3,pointRadius:0,order:0},
    {type:'line',data:sigLine,borderColor:'#d8322f',borderWidth:1.3,pointRadius:0,order:0},
    {type:'bar',data:hist,backgroundColor:histColors,barThickness:2.2,grouped:false,order:1}
  ]},
  options:Object.assign({}, baseOpts, {
    layout:{autoPadding:false, padding:{top:0,left:2,right:0,bottom:0}},
    scales:{ x:xScale(false), y:yScale(-2.57089,1.4558,macdTicks,macdTicks.map((v,i)=>{const s=v.toFixed(5); return i===0?[s,'']:(i===macdTicks.length-1?['',s]:s);})) }
  }),
  plugins:[bgPlugin,{id:'macdOv',afterDraw(chart){ const c=chart.ctx; separator(c,0.75,1866); legendLine(c,'MACD [12,  26,  9] 0.20510,  0.24364',126); }}]
});

// ---------------- RSI ----------------
new Chart(document.getElementById('cRsi'),{
  type:'line',
  data:{datasets:[{data:rsi(closes,14),borderColor:'#1c7fdc',borderWidth:1.3,pointRadius:0}]},
  options:Object.assign({}, baseOpts, {
    layout:{autoPadding:false, padding:{top:0,left:2,right:0,bottom:0}},
    scales:{ x:xScale(false), y:yScale(0,100,rsiTicks,rsiTicks.map((v,i)=>{const s=v.toFixed(1); return i===0?[s,'']:(i===rsiTicks.length-1?['',s]:s);})) }
  }),
  plugins:[bgPlugin,{id:'rsiOv',afterDraw(chart){ const c=chart.ctx; separator(c,0.75,1866); legendLine(c,'RSI [14] 50.0',96); }}]
});

// ---------------- CCI ----------------
new Chart(document.getElementById('cCci'),{
  type:'line',
  data:{datasets:[{data:cci(highs,lows,closes,14),borderColor:'#1c7fdc',borderWidth:1.3,pointRadius:0}]},
  options:Object.assign({}, baseOpts, {
    layout:{autoPadding:false, padding:{top:0,left:2,right:0,bottom:0}},
    scales:{ x:xScale(true), y:yScale(-384,461,cciTicks,cciTicks.map(v=>v.toFixed(1))) }
  }),
  plugins:[bgPlugin,{id:'cciOv',afterDraw(chart){ const c=chart.ctx; separator(c,0.75,1866); c.save(); c.strokeStyle=SEP; c.lineWidth=1.5; c.beginPath(); c.moveTo(0,chart.chartArea.bottom+0.5); c.lineTo(chart.chartArea.right,chart.chartArea.bottom+0.5); c.stroke(); c.restore(); legendLine(c,'CCI [14] -56.0',103); }}]
});
</script>
</body></html>
